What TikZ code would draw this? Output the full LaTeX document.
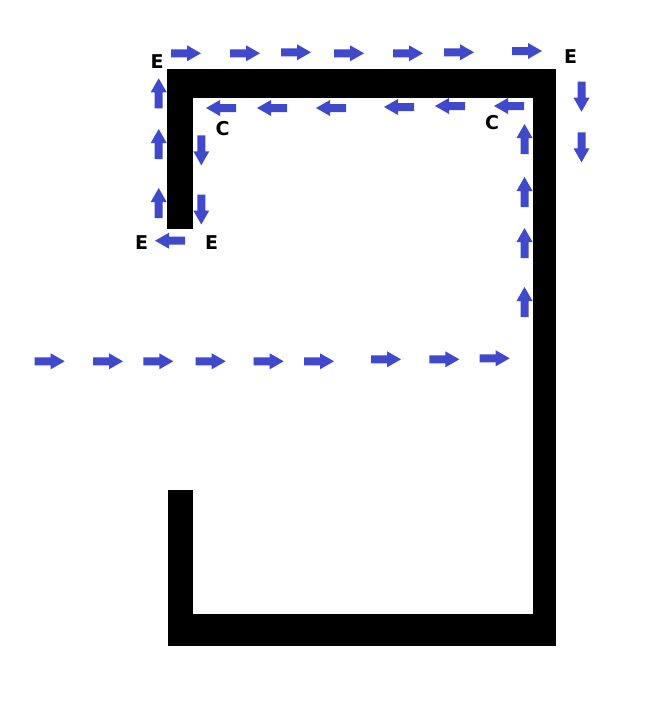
\documentclass[tikz,border=0pt]{standalone}
\usepackage{fontspec}
\setmainfont{DejaVu Sans}
\definecolor{flowblue}{RGB}{64,73,204}
\tikzset{
  wall/.style={fill=black, draw=none},
  lbl/.style={font=\bfseries\fontsize{19}{19}\selectfont, inner sep=0pt, text=black},
  flowarrow/.pic={\fill[flowblue] (-15,-4) -- (1,-4) -- (1,-8) -- (15,0) -- (1,8) -- (1,4) -- (-15,4) -- cycle;}
}
\begin{document}
\begin{tikzpicture}[x=1pt,y=-1pt]
\useasboundingbox (0,0) rectangle (656,726);
\fill[white] (0,0) rectangle (656,726);
% walls
\fill[wall] (167,69) rectangle (556,98);
\fill[wall] (167,69) rectangle (193,229);
\fill[wall] (533,69) rectangle (556,646);
\fill[wall] (168,614) rectangle (556,646);
\fill[wall] (168,490) rectangle (193,646);
% top outer row (right)
\foreach \x/\y in {186/53.3,245/53.3,296/52.3,349/53.3,408/53.3,459/52.3,527/51}
  \pic at (\x,\y) {flowarrow};
% inner row (left)
\foreach \x/\y in {221/108,272/108,331/108,399/107,450/106,509/106}
  \pic[rotate=180] at (\x,\y) {flowarrow};
% right inner column (up)
\foreach \y in {139,192,243,302}
  \pic[rotate=90] at (524.5,\y) {flowarrow};
% right outer column (down)
\foreach \y in {96.7,147.3}
  \pic[rotate=-90] at (581.5,\y) {flowarrow};
% left outer column (up)
\foreach \y in {93.3,144,203}
  \pic[rotate=90] at (158.7,\y) {flowarrow};
% left inner column (down)
\foreach \y in {150.3,209.5}
  \pic[rotate=-90] at (201.3,\y) {flowarrow};
% bottom of left stub (left)
\pic[rotate=180] at (170,240.7) {flowarrow};
% middle row (right)
\foreach \x/\y in {49.7/361.3,108/361.3,158.3/361.3,210.7/361.3,268.7/361.3,319/361.3,386/359.3,444.3/359.3,494.7/358.3}
  \pic at (\x,\y) {flowarrow};
% labels
\node[lbl] (e1) at (157,62) {E};
\node[lbl] (e2) at (570.7,56.7) {E};
\node[lbl] (e3) at (141.7,242.7) {E};
\node[lbl] (e4) at (211.7,242.7) {E};
\node[lbl] (c1) at (222.7,128.3) {C};
\node[lbl] (c2) at (492,122.7) {C};
\end{tikzpicture}
\end{document}
